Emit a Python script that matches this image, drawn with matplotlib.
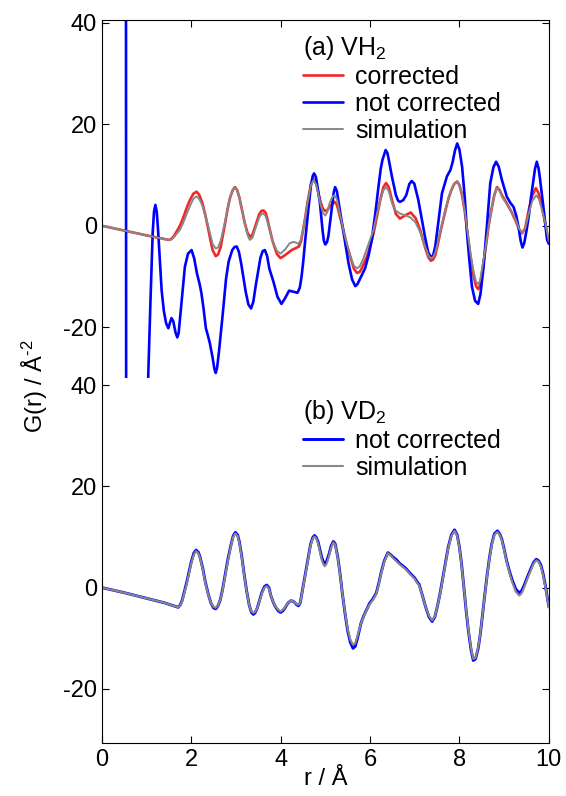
import numpy as np
import matplotlib
matplotlib.use("Agg")
import matplotlib.pyplot as plt

plt.rcParams['font.family'] = ['Liberation Sans', 'DejaVu Sans']
plt.rcParams['mathtext.fontset'] = 'custom'
plt.rcParams['mathtext.rm'] = 'Liberation Sans'
plt.rcParams['mathtext.it'] = 'Liberation Sans:italic'
plt.rcParams['axes.unicode_minus'] = False

# (r, G) pairs
# (a) VH2 -- corrected
vh2_corrected = np.array([
    (0, 0), (0.5, -0.95), (1.0, -1.9), (1.5, -2.8), (1.56, -2.6), (1.62, -2.0), (1.75, 0.0),
    (1.82, 1.5), (1.9, 3.5), (1.97, 5.0), (2.05, 6.3), (2.12, 6.7), (2.18, 6.1), (2.25, 4.5),
    (2.32, 2.0), (2.38, -0.5), (2.44, -3.2), (2.48, -4.8), (2.55, -6.0), (2.6, -5.7),
    (2.66, -4.2), (2.75, 0.0), (2.82, 3.5), (2.87, 5.5), (2.93, 7.0), (2.98, 7.6), (3.03, 7.0),
    (3.08, 5.5), (3.14, 3.0), (3.2, 0.5), (3.26, -1.4), (3.32, -2.2), (3.37, -1.8),
    (3.42, -0.5), (3.52, 2.2), (3.57, 2.9), (3.62, 3.0), (3.67, 2.5), (3.7, 1.5), (3.76, -0.8),
    (3.82, -3.0), (3.92, -5.6), (4.0, -6.4), (4.1, -5.8), (4.25, -4.8), (4.41, -4.1),
    (4.46, -3.0), (4.5, -1.0), (4.55, 1.5), (4.6, 4.5), (4.68, 8.2), (4.74, 9.2), (4.8, 8.2),
    (4.85, 6.3), (4.9, 4.5), (4.95, 3.3), (5.0, 2.9), (5.05, 3.1), (5.1, 3.8), (5.21, 4.7),
    (5.26, 4.1), (5.3, 2.8), (5.35, 1.0), (5.41, -1.0), (5.48, -3.7), (5.56, -6.1),
    (5.64, -8.5), (5.71, -9.3), (5.77, -9.1), (5.82, -8.3), (5.93, -6.1), (6.0, -4.1),
    (6.08, -1.5), (6.16, 2.0), (6.23, 5.1), (6.3, 7.6), (6.36, 8.4), (6.42, 7.6), (6.49, 5.1),
    (6.58, 2.3), (6.67, 1.4), (6.78, 2.0), (6.91, 2.6), (7.02, 1.5), (7.12, -0.8),
    (7.19, -3.0), (7.25, -4.8), (7.31, -6.3), (7.36, -6.9), (7.41, -6.7), (7.46, -5.8),
    (7.52, -3.6), (7.58, -1.0), (7.69, 3.1), (7.76, 5.5), (7.82, 7.0), (7.88, 8.2),
    (7.95, 8.7), (8.0, 8.0), (8.06, 6.0), (8.12, 2.8), (8.17, -0.8), (8.25, -6.2),
    (8.32, -10.0), (8.37, -11.9), (8.42, -12.5), (8.46, -11.7), (8.5, -9.5), (8.58, -4.8),
    (8.66, 0.3), (8.73, 3.8), (8.78, 6.0), (8.84, 7.6), (8.9, 7.0), (8.95, 6.0), (9.06, 4.4),
    (9.16, 2.8), (9.25, 1.1), (9.33, -0.6), (9.4, -1.5), (9.47, -0.5), (9.55, 3.1),
    (9.63, 5.9), (9.71, 7.4), (9.77, 6.4), (9.84, 3.8), (9.93, 0.0), (10.0, -3.6)])

# (a) VH2 -- not corrected (diverges near r = 0.55, off scale until r ~ 1.04)
vh2_not_corrected = np.array([
    (0.54, 120), (0.55, -120), (0.98, -80), (1.04, -29.7), (1.09, -15.0), (1.14, -1.4),
    (1.17, 2.8), (1.2, 4.1), (1.23, 2.8), (1.26, -0.8), (1.29, -5.4), (1.34, -12.7),
    (1.39, -16.8), (1.44, -19.2), (1.49, -20.2), (1.53, -19.0), (1.56, -18.2), (1.6, -18.8),
    (1.65, -21.0), (1.69, -22.0), (1.72, -21.2), (1.76, -17.5), (1.8, -13.6), (1.86, -8.1),
    (1.93, -5.5), (2.01, -4.8), (2.07, -6.5), (2.13, -9.4), (2.19, -11.5), (2.23, -13.3),
    (2.28, -16.5), (2.33, -20.2), (2.38, -21.8), (2.42, -23.2), (2.48, -26.0), (2.52, -28.2),
    (2.55, -29.0), (2.58, -28.0), (2.62, -25.0), (2.7, -18.0), (2.78, -10.5), (2.84, -7.0),
    (2.92, -4.8), (2.97, -4.2), (3.02, -4.1), (3.07, -5.2), (3.12, -7.5), (3.22, -13.0),
    (3.28, -15.5), (3.34, -16.3), (3.39, -15.0), (3.45, -11.5), (3.55, -6.3), (3.6, -5.0),
    (3.65, -4.8), (3.7, -6.0), (3.75, -8.5), (3.84, -11.0), (3.93, -14.0), (4.02, -15.4),
    (4.1, -14.3), (4.19, -12.8), (4.28, -13.0), (4.38, -13.2), (4.43, -12.2), (4.47, -10.0),
    (4.51, -6.8), (4.55, -3.0), (4.62, 3.1), (4.68, 8.0), (4.72, 9.8), (4.75, 10.3),
    (4.79, 9.6), (4.82, 8.0), (4.88, 4.5), (4.94, -1.0), (4.97, -3.0), (5.0, -3.7),
    (5.04, -3.2), (5.07, -2.0), (5.14, 3.0), (5.19, 6.6), (5.22, 7.6), (5.26, 6.8), (5.3, 4.5),
    (5.41, -1.5), (5.52, -7.4), (5.6, -10.6), (5.67, -11.9), (5.72, -11.5), (5.78, -10.4),
    (5.89, -8.4), (5.97, -5.8), (6.04, -2.8), (6.12, 2.5), (6.19, 7.7), (6.24, 11.2),
    (6.28, 13.0), (6.35, 14.9), (6.39, 14.3), (6.42, 13.0), (6.49, 9.7), (6.58, 6.0),
    (6.63, 4.9), (6.67, 4.7), (6.74, 5.0), (6.81, 6.0), (6.88, 8.2), (6.93, 8.8), (6.99, 8.3),
    (7.08, 5.1), (7.16, 1.2), (7.23, -2.2), (7.3, -5.2), (7.36, -6.2), (7.41, -5.9),
    (7.46, -4.1), (7.54, 1.5), (7.61, 6.4), (7.72, 9.7), (7.8, 11.0), (7.85, 12.6),
    (7.9, 14.8), (7.95, 16.2), (8.0, 15.0), (8.06, 11.6), (8.12, 5.5), (8.17, -1.5),
    (8.23, -7.5), (8.28, -12.0), (8.35, -14.8), (8.42, -15.4), (8.47, -13.5), (8.54, -8.1),
    (8.62, 0.5), (8.69, 8.4), (8.76, 11.5), (8.82, 12.6), (8.88, 11.6), (8.95, 9.0),
    (9.06, 5.7), (9.14, 4.5), (9.21, 3.7), (9.27, 2.0), (9.32, -0.2), (9.37, -3.0),
    (9.41, -4.3), (9.45, -3.4), (9.5, -1.0), (9.55, 1.8), (9.6, 5.5), (9.64, 8.0),
    (9.69, 11.2), (9.73, 12.6), (9.77, 11.3), (9.8, 9.4), (9.84, 6.4), (9.9, 2.0),
    (9.96, -2.8), (10.0, -3.5)])

# (a) VH2 -- simulation
vh2_simulation = np.array([
    (0, 0), (0.5, -0.95), (1.0, -1.9), (1.5, -2.8), (1.56, -2.7), (1.62, -2.2), (1.75, -0.8),
    (1.82, 0.5), (1.9, 2.3), (1.97, 3.8), (2.05, 5.3), (2.12, 5.8), (2.18, 5.3), (2.25, 4.0),
    (2.32, 1.8), (2.38, 0.0), (2.44, -2.2), (2.48, -3.6), (2.55, -4.5), (2.6, -4.3),
    (2.66, -3.0), (2.75, 0.5), (2.82, 3.5), (2.87, 5.5), (2.93, 7.0), (2.98, 7.5), (3.03, 7.0),
    (3.08, 5.5), (3.14, 3.0), (3.2, 0.5), (3.26, -1.8), (3.31, -2.8), (3.37, -2.4),
    (3.42, -1.0), (3.52, 1.6), (3.57, 2.3), (3.61, 2.4), (3.66, 2.0), (3.7, 1.0), (3.76, -1.0),
    (3.82, -3.0), (3.92, -5.0), (4.0, -5.5), (4.1, -4.7), (4.2, -3.5), (4.28, -3.2),
    (4.34, -3.3), (4.4, -3.6), (4.45, -2.8), (4.5, -1.0), (4.55, 1.5), (4.6, 4.3), (4.68, 8.0),
    (4.74, 9.0), (4.8, 8.0), (4.85, 6.0), (4.9, 4.0), (4.95, 2.5), (5.0, 2.0), (5.05, 2.8),
    (5.1, 4.5), (5.16, 5.7), (5.21, 6.0), (5.26, 5.2), (5.3, 3.5), (5.36, 1.0), (5.42, -1.5),
    (5.49, -3.8), (5.56, -6.0), (5.64, -7.9), (5.71, -8.4), (5.77, -8.0), (5.85, -6.5),
    (5.95, -4.0), (6.08, -0.8), (6.16, 2.5), (6.23, 5.0), (6.3, 7.0), (6.36, 7.6), (6.42, 6.8),
    (6.49, 4.5), (6.57, 3.0), (6.67, 2.4), (6.8, 2.0), (6.91, 1.6), (7.02, 0.6), (7.12, -1.2),
    (7.19, -3.0), (7.25, -4.5), (7.31, -5.9), (7.36, -6.4), (7.41, -6.2), (7.46, -5.3),
    (7.52, -3.2), (7.58, -0.8), (7.69, 3.3), (7.76, 5.6), (7.82, 7.0), (7.88, 8.2),
    (7.95, 8.7), (8.0, 8.0), (8.06, 6.2), (8.12, 3.0), (8.17, -0.5), (8.25, -5.6),
    (8.32, -9.2), (8.37, -11.0), (8.42, -11.5), (8.46, -10.9), (8.5, -8.8), (8.58, -4.5),
    (8.66, 0.4), (8.73, 3.8), (8.78, 6.0), (8.84, 7.4), (8.9, 6.8), (8.96, 5.6), (9.06, 4.2),
    (9.16, 2.7), (9.25, 1.4), (9.33, -0.5), (9.4, -1.4), (9.47, -0.6), (9.55, 2.4),
    (9.63, 4.9), (9.72, 6.0), (9.78, 5.2), (9.84, 3.4), (9.93, 0.2), (10.0, -3.0)])

# (b) VD2 -- not corrected
vd2_not_corrected = np.array([
    (0, 0), (0.5, -1.0), (1.0, -2.1), (1.4, -3.0), (1.71, -3.9), (1.76, -3.4), (1.8, -2.5),
    (1.9, 1.0), (2.0, 5.0), (2.06, 6.8), (2.11, 7.4), (2.16, 7.0), (2.2, 6.0), (2.26, 3.8),
    (2.32, 1.0), (2.38, -1.2), (2.44, -3.0), (2.5, -4.0), (2.55, -4.2), (2.6, -3.6),
    (2.65, -2.5), (2.7, -0.5), (2.76, 2.5), (2.82, 5.5), (2.88, 8.0), (2.94, 10.2),
    (2.99, 10.9), (3.04, 10.4), (3.08, 9.0), (3.13, 6.3), (3.18, 3.0), (3.24, -0.6),
    (3.3, -3.5), (3.35, -4.9), (3.39, -5.3), (3.43, -5.0), (3.48, -4.0), (3.53, -2.5),
    (3.58, -1.0), (3.64, 0.2), (3.69, 0.5), (3.74, 0.0), (3.78, -1.5), (3.84, -3.0),
    (3.9, -4.0), (3.95, -4.6), (4.0, -4.9), (4.05, -4.6), (4.1, -4.0), (4.17, -3.0),
    (4.23, -2.6), (4.28, -2.7), (4.32, -3.0), (4.36, -3.4), (4.4, -3.6), (4.44, -3.0),
    (4.48, -1.0), (4.53, 1.5), (4.58, 4.0), (4.63, 6.5), (4.67, 8.5), (4.72, 9.9),
    (4.76, 10.3), (4.8, 9.9), (4.84, 9.0), (4.88, 7.5), (4.92, 6.0), (4.96, 5.0), (4.99, 4.8),
    (5.03, 5.2), (5.08, 6.5), (5.13, 8.2), (5.18, 9.1), (5.22, 8.7), (5.28, 6.0), (5.33, 2.8),
    (5.38, -1.0), (5.44, -5.0), (5.5, -8.5), (5.56, -10.8), (5.62, -12.0), (5.67, -11.6),
    (5.72, -10.0), (5.76, -8.5), (5.8, -7.0), (5.85, -5.8), (5.9, -4.8), (5.95, -3.9),
    (5.99, -3.1), (6.06, -2.3), (6.14, -1.1), (6.2, 1.0), (6.25, 3.0), (6.32, 5.3),
    (6.4, 6.9), (6.46, 6.5), (6.52, 6.0), (6.59, 5.5), (6.66, 4.8), (6.73, 4.3), (6.8, 3.8),
    (6.9, 2.8), (7.0, 1.9), (7.05, 1.2), (7.1, 0.6), (7.18, -1.8), (7.25, -4.0),
    (7.32, -5.8), (7.39, -6.7), (7.45, -5.8), (7.5, -4.0), (7.56, -1.5), (7.62, 1.5),
    (7.69, 5.0), (7.75, 8.0), (7.82, 10.4), (7.89, 11.4), (7.95, 10.4), (8.0, 8.0),
    (8.05, 4.5), (8.1, 0.0), (8.15, -4.5), (8.2, -8.5), (8.26, -12.3), (8.31, -14.4),
    (8.36, -14.1), (8.42, -12.0), (8.47, -9.0), (8.52, -5.0), (8.57, -1.2), (8.62, 2.5),
    (8.67, 5.8), (8.72, 8.5), (8.78, 10.6), (8.85, 11.2), (8.9, 10.6), (8.95, 9.5),
    (9.0, 7.6), (9.05, 5.5), (9.12, 3.2), (9.18, 1.5), (9.26, -0.3), (9.34, -1.1),
    (9.4, -0.5), (9.45, 0.5), (9.53, 2.3), (9.6, 3.8), (9.66, 5.0), (9.72, 5.6), (9.77, 5.3),
    (9.82, 4.5), (9.87, 2.8), (9.92, 0.5), (9.96, -1.6), (10.0, -3.8)])

# (b) VD2 -- simulation
vd2_simulation = np.array([
    (0, 0), (0.5, -1.0), (1.0, -2.1), (1.4, -3.0), (1.71, -3.9), (1.76, -3.5), (1.8, -2.7),
    (1.9, 0.7), (2.0, 4.7), (2.06, 6.5), (2.11, 7.2), (2.16, 6.8), (2.2, 5.8), (2.26, 3.6),
    (2.32, 0.8), (2.38, -1.3), (2.44, -3.0), (2.5, -3.8), (2.55, -4.0), (2.6, -3.5),
    (2.65, -2.5), (2.7, -0.7), (2.76, 2.2), (2.82, 5.2), (2.88, 7.8), (2.94, 10.0),
    (2.99, 10.7), (3.04, 10.2), (3.08, 8.8), (3.13, 6.1), (3.18, 2.8), (3.24, -0.7),
    (3.3, -3.5), (3.35, -4.7), (3.39, -5.0), (3.43, -4.8), (3.48, -4.0), (3.53, -2.6),
    (3.58, -1.2), (3.64, 0.0), (3.69, 0.3), (3.74, -0.2), (3.78, -1.5), (3.84, -3.0),
    (3.9, -3.9), (3.95, -4.4), (4.0, -4.7), (4.05, -4.4), (4.1, -3.9), (4.17, -3.0),
    (4.23, -2.6), (4.28, -2.7), (4.32, -3.0), (4.36, -3.3), (4.4, -3.4), (4.44, -3.0),
    (4.48, -1.1), (4.53, 1.3), (4.58, 3.8), (4.63, 6.3), (4.67, 8.3), (4.72, 9.7),
    (4.76, 10.1), (4.8, 9.7), (4.84, 8.7), (4.88, 7.1), (4.92, 5.5), (4.96, 4.5), (4.99, 4.2),
    (5.03, 4.7), (5.08, 6.1), (5.13, 7.9), (5.18, 8.9), (5.22, 8.5), (5.28, 5.8), (5.33, 2.7),
    (5.38, -1.0), (5.44, -4.8), (5.5, -8.2), (5.56, -10.3), (5.62, -11.3), (5.67, -11.0),
    (5.72, -9.6), (5.76, -8.3), (5.8, -7.0), (5.85, -5.9), (5.9, -4.9), (5.95, -4.0),
    (5.99, -3.3), (6.06, -2.5), (6.14, -1.3), (6.2, 0.8), (6.25, 2.8), (6.32, 5.1),
    (6.4, 6.8), (6.46, 6.4), (6.52, 5.8), (6.59, 5.2), (6.66, 4.6), (6.73, 4.1), (6.8, 3.6),
    (6.9, 2.6), (7.0, 1.7), (7.05, 1.0), (7.1, 0.4), (7.18, -1.8), (7.25, -4.0),
    (7.32, -5.6), (7.39, -6.5), (7.45, -5.7), (7.5, -4.0), (7.56, -1.7), (7.62, 1.3),
    (7.69, 4.8), (7.75, 7.8), (7.82, 10.2), (7.89, 11.2), (7.95, 10.2), (8.0, 7.8),
    (8.05, 4.3), (8.1, 0.0), (8.15, -4.3), (8.2, -8.3), (8.26, -12.0), (8.31, -14.1),
    (8.36, -13.9), (8.42, -11.8), (8.47, -8.9), (8.52, -5.0), (8.57, -1.3), (8.62, 2.3),
    (8.67, 5.6), (8.72, 8.3), (8.78, 10.4), (8.85, 11.0), (8.9, 10.4), (8.95, 9.3),
    (9.0, 7.4), (9.05, 5.3), (9.12, 2.9), (9.18, 1.1), (9.26, -0.8), (9.34, -1.6),
    (9.4, -1.0), (9.45, 0.1), (9.53, 2.0), (9.6, 3.5), (9.66, 4.8), (9.72, 5.4), (9.77, 5.1),
    (9.82, 4.2), (9.87, 2.5), (9.92, 0.2), (9.96, -1.8), (10.0, -3.9)])

yticks = [40, 20, 0, -20]
xticks = [0, 2, 4, 6, 8, 10]

red = '#f02828'
blue = '#0000ff'
grey = '#888888'

fig = plt.figure(figsize=(5.66, 7.96), dpi=100)
ax1 = fig.add_axes([0.1797, 0.5251, 0.790, 0.4497])
ax2 = fig.add_axes([0.1797, 0.0666, 0.790, 0.4585])

kw = dict(solid_joinstyle='round', solid_capstyle='round')
ax1.plot(vh2_corrected[:, 0], vh2_corrected[:, 1], color=red, lw=1.9, label='corrected', **kw)
ax1.plot(vh2_not_corrected[:, 0], vh2_not_corrected[:, 1], color=blue, lw=1.9,
         label='not corrected', **kw)
ax1.plot(vh2_simulation[:, 0], vh2_simulation[:, 1], color=grey, lw=1.4, label='simulation', **kw)

ax2.plot(vd2_not_corrected[:, 0], vd2_not_corrected[:, 1], color=blue, lw=2.1,
         label='not corrected', **kw)
ax2.plot(vd2_simulation[:, 0], vd2_simulation[:, 1], color=grey, lw=1.5, label='simulation', **kw)

ax1.set_ylim(-30, 40.5)
ax2.set_ylim(-30.7, 41.4)
for ax in (ax1, ax2):
    ax.set_xlim(0, 10)
    ax.set_xticks(xticks)
    ax.set_yticks(yticks)
    ax.tick_params(direction='in', length=5, width=0.8, labelsize=17, right=True)
    for s in ax.spines.values():
        s.set_linewidth(0.8)

ax1.spines['bottom'].set_visible(False)
ax1.tick_params(axis='x', bottom=False, top=True, labelbottom=False)
ax2.spines['top'].set_visible(False)
ax2.tick_params(axis='x', top=False, bottom=True, pad=4)

leg_kw = dict(loc='upper left', frameon=False, fontsize=18, title_fontsize=18,
              alignment='left', handlelength=1.6, handletextpad=0.48, labelspacing=0.12,
              borderpad=0, borderaxespad=0)
ax1.legend(title='(a) VH$_2$', bbox_to_anchor=(0.45, 0.962), **leg_kw)
ax2.legend(title='(b) VD$_2$', bbox_to_anchor=(0.45, 0.945), **leg_kw)

ax2.set_xlabel('r / Å', fontsize=17, labelpad=-2)
fig.text(0.062, 0.515, r'G(r) / Å$^{\text{-2}}$', rotation=90, fontsize=17,
         ha='center', va='center')

fig.savefig('out.png', dpi=100)
